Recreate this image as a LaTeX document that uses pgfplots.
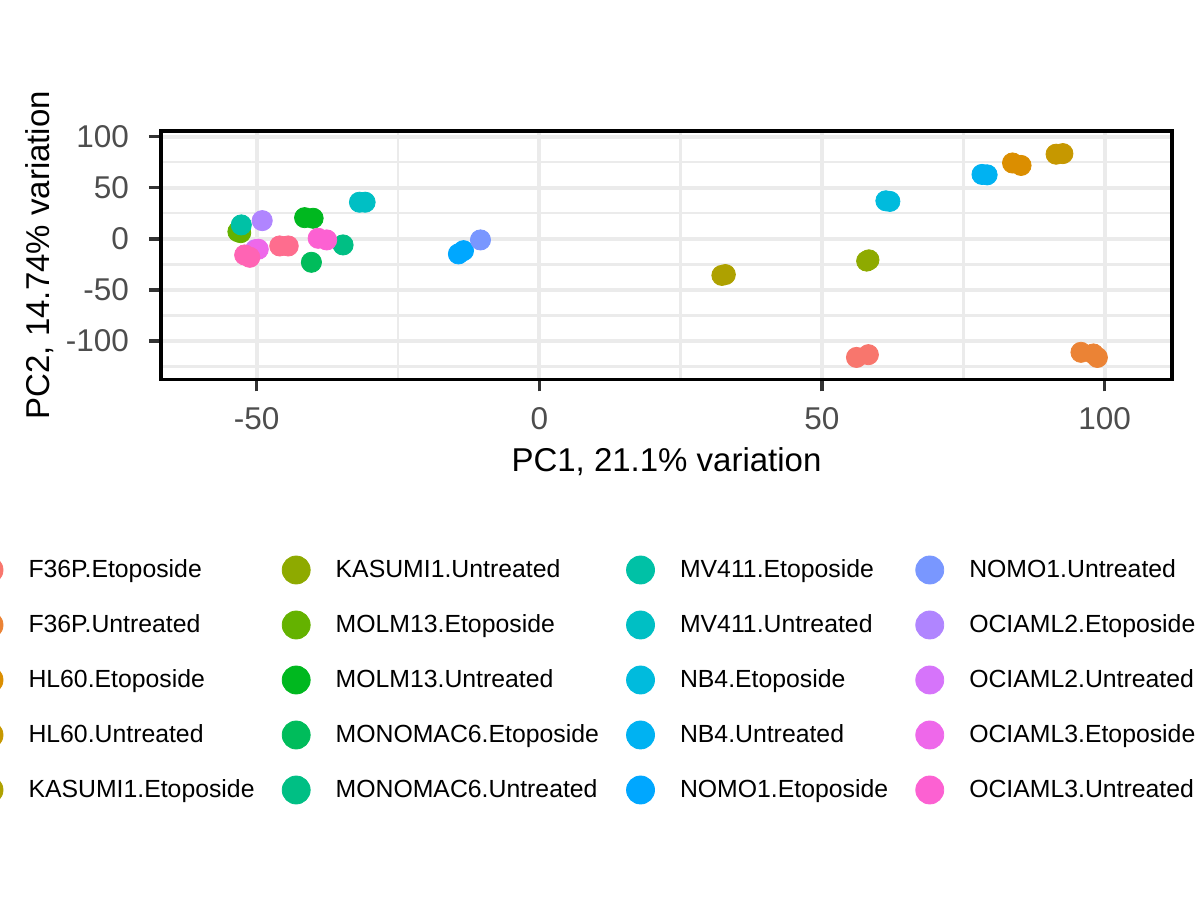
\documentclass[border=0pt]{standalone}
\usepackage{fontspec}
\setmainfont{Liberation Sans}
\usepackage{pgfplots}
\pgfplotsset{compat=1.18}
\definecolor{c1}{HTML}{F8766D}
\definecolor{c2}{HTML}{EB8335}
\definecolor{c3}{HTML}{DB8E00}
\definecolor{c4}{HTML}{C69800}
\definecolor{c5}{HTML}{AEA100}
\definecolor{c6}{HTML}{8EAA00}
\definecolor{c7}{HTML}{64B200}
\definecolor{c8}{HTML}{00B81F}
\definecolor{c9}{HTML}{00BC5B}
\definecolor{c10}{HTML}{00BF84}
\definecolor{c11}{HTML}{00C1A6}
\definecolor{c12}{HTML}{00BFC4}
\definecolor{c13}{HTML}{00BBDD}
\definecolor{c14}{HTML}{00B2F2}
\definecolor{c15}{HTML}{00A7FF}
\definecolor{c16}{HTML}{7997FF}
\definecolor{c17}{HTML}{B085FF}
\definecolor{c18}{HTML}{D674FA}
\definecolor{c19}{HTML}{EE68EA}
\definecolor{c20}{HTML}{FC61D2}
\definecolor{c21}{HTML}{FF64B4}
\definecolor{c22}{HTML}{FE6D8E}
\definecolor{gridc}{HTML}{EBEBEB}
\definecolor{tickc}{HTML}{333333}
\definecolor{labc}{HTML}{4D4D4D}
\pgfplotsset{pt/.style={only marks, mark=*, mark size=5.05pt, color=#1}}
\begin{document}
\begin{tikzpicture}
\begin{axis}[
  at={(80.5pt,260.35pt)}, anchor=south west,
  scale only axis, width=505.5pt, height=124.2pt,
  xmin=-66.9, xmax=111.9, ymin=-137.5, ymax=105.6,
  xtick={-50,0,50,100}, xticklabels={-50,0,50,100},
  ytick={-100,-50,0,50,100}, yticklabels={-100,-50,0,50,100},
  minor xtick={-25,25,75}, minor ytick={-125,-75,-25,25,75},
  grid=both,
  major grid style={draw=gridc, line width=2pt},
  minor grid style={draw=gridc, line width=1.2pt},
  axis line style={draw=black, line width=1.6pt},
  tick pos=left, tick align=outside,
  major tick length=6pt, minor tick length=0pt,
  every tick/.style={draw=tickc, line width=1.7pt},
  xticklabel style={font=\fontsize{15.75}{18}\selectfont, text=labc, anchor=base, inner sep=0pt, yshift=-19.1pt},
  yticklabel style={font=\fontsize{15.75}{18}\selectfont, text=labc, anchor=east, inner sep=0pt, xshift=-9.85pt},
  xlabel={PC1, 21.1\% variation},
  ylabel={PC2, 14.74\% variation},
  xlabel style={font=\fontsize{16.5}{19}\selectfont, at={(axis description cs:0.5,-0.372)}, anchor=base, inner sep=0pt},
  ylabel style={font=\fontsize{16.5}{19}\selectfont, at={(axis description cs:-0.1098,0.5)}, anchor=base, inner sep=0pt},
  legend columns=5, transpose legend,
  legend cell align=left,
  legend style={at={(axis description cs:-0.1899,-0.7073)}, anchor=north west, draw=none, fill=none, inner sep=0pt, outer sep=0pt, row sep=12.5pt, font=\fontsize{12.4}{14}\selectfont, nodes={inner sep=0pt},
    /tikz/every odd column/.append style={column sep=9.75pt},
    /tikz/every even column/.append style={column sep=10.8pt}},
  legend image code/.code={\path[draw=none,fill=none] (-10pt,-7.5pt) rectangle (10pt,7.5pt); \draw[#1,mark size=7.0pt] plot coordinates {(0pt,0pt)};},
]
\addplot[pt=c1] coordinates {(56.1,-116.1) (58.2,-113.4)}; \addlegendentry{F36P.Etoposide}
\addplot[pt=c2] coordinates {(95.8,-111.1) (98.0,-112.7) (98.7,-116.1)}; \addlegendentry{F36P.Untreated}
\addplot[pt=c3] coordinates {(83.7,74.2) (85.2,71.8)}; \addlegendentry{HL60.Etoposide}
\addplot[pt=c4] coordinates {(91.4,82.8) (92.6,83.4)}; \addlegendentry{HL60.Untreated}
\addplot[pt=c5] coordinates {(32.3,-35.8) (32.9,-35.0)}; \addlegendentry{KASUMI1.Etoposide}
\addplot[pt=c6] coordinates {(57.9,-21.8) (58.3,-20.6)}; \addlegendentry{KASUMI1.Untreated}
\addplot[pt=c7] coordinates {(-53.3,7.0) (-52.8,6.0)}; \addlegendentry{MOLM13.Etoposide}
\addplot[pt=c8] coordinates {(-41.5,20.7) (-40.0,20.1)}; \addlegendentry{MOLM13.Untreated}
\addplot[pt=c9] coordinates {(-40.3,-23.0)}; \addlegendentry{MONOMAC6.Etoposide}
\addplot[pt=c10] coordinates {(-34.7,-6.0)}; \addlegendentry{MONOMAC6.Untreated}
\addplot[pt=c11] coordinates {(-52.7,13.6)}; \addlegendentry{MV411.Etoposide}
\addplot[pt=c12] coordinates {(-31.8,35.8) (-30.8,35.8)}; \addlegendentry{MV411.Untreated}
\addplot[pt=c13] coordinates {(61.3,37.2) (62.0,36.6)}; \addlegendentry{NB4.Etoposide}
\addplot[pt=c14] coordinates {(78.3,63.0) (79.2,62.6)}; \addlegendentry{NB4.Untreated}
\addplot[pt=c15] coordinates {(-14.3,-14.8) (-13.4,-11.6)}; \addlegendentry{NOMO1.Etoposide}
\addplot[pt=c16] coordinates {(-10.4,-1.1)}; \addlegendentry{NOMO1.Untreated}
\addplot[pt=c17] coordinates {(-49.0,17.8)}; \addlegendentry{OCIAML2.Etoposide}
\addplot[pt=c18] coordinates {(-50.2,-10.6)}; \addlegendentry{OCIAML2.Untreated}
\addplot[pt=c19] coordinates {(-49.7,-10.2)}; \addlegendentry{OCIAML3.Etoposide}
\addplot[pt=c20] coordinates {(-39.1,0.5) (-37.6,-1.1)}; \addlegendentry{OCIAML3.Untreated}
\addplot[pt=c21, forget plot] coordinates {(-52.1,-15.8) (-51.2,-18.1)};
\addplot[pt=c22, forget plot] coordinates {(-45.9,-7.0) (-44.4,-7.0)};
\end{axis}
\pgfresetboundingbox
\path[use as bounding box] (0pt,0pt) rectangle (600pt,450pt);
\end{tikzpicture}
\end{document}
